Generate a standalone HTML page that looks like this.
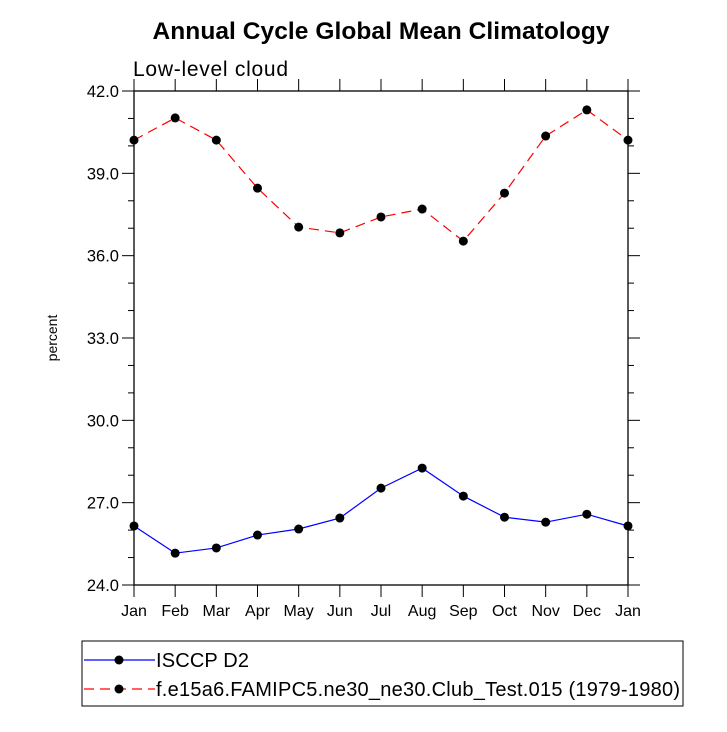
<!DOCTYPE html>
<html><head><meta charset="utf-8"><style>
body{margin:0;background:#fff}
svg text{font-family:"Liberation Sans",Helvetica,Arial,sans-serif;fill:#000}
</style></head><body>
<svg id="c" width="727" height="727" viewBox="0 0 727 727">
<text x="381" y="39" font-size="24.5" font-weight="bold" text-anchor="middle" textLength="457">Annual Cycle Global Mean Climatology</text>
<text x="133" y="76" font-size="21" textLength="155">Low-level cloud</text>
<text transform="translate(57,338) rotate(-90)" font-size="14" text-anchor="middle">percent</text>
<g id="axes"></g><g id="series"></g>
<g>
<rect x="82" y="641" width="601" height="65" fill="none" stroke="#000" stroke-width="1"/>
<g>
<line x1="84" y1="660" x2="155" y2="660" stroke="#00f" stroke-width="1.2"/>
<circle cx="119" cy="660" r="4.5" fill="#000"/>
<text x="156" y="667" font-size="20" textLength="93">ISCCP D2</text></g>
<g>
<line x1="84" y1="689" x2="155" y2="689" stroke="#f00" stroke-width="1.2" stroke-dasharray="10,6"/>
<circle cx="119" cy="689" r="4.5" fill="#000"/>
<text x="156" y="696" font-size="20" textLength="524">f.e15a6.FAMIPC5.ne30_ne30.Club_Test.015 (1979-1980)</text></g>
</g>
</svg>
<script>
const months=["Jan","Feb","Mar","Apr","May","Jun","Jul","Aug","Sep","Oct","Nov","Dec","Jan"];
const isccp=[26.15,25.16,25.35,25.82,26.04,26.44,27.53,28.26,27.24,26.47,26.29,26.58,26.15];
const model=[40.21,41.02,40.21,38.46,37.04,36.83,37.41,37.70,36.53,38.28,40.36,41.31,40.21];
const yTicks=[24,27,30,33,36,39,42];
const L=134,R=628,T=91,B=585,ymin=24,ymax=42;
const xs=i=>L+(R-L)*i/(months.length-1);
const ys=v=>B-(v-ymin)/(ymax-ymin)*(B-T);
const NS="http://www.w3.org/2000/svg";
function mk(tag,at,parent){const e=document.createElementNS(NS,tag);for(const k in at)e.setAttribute(k,at[k]);parent.appendChild(e);return e;}
const ax=document.getElementById('axes'),sr=document.getElementById('series');
const frame=mk('rect',{x:L,y:T,width:R-L,height:B-T,fill:'none',stroke:'#000','stroke-width':1.3},ax);


months.forEach((m,i)=>{const x=xs(i);
mk('line',{x1:x,y1:B,x2:x,y2:B+12,stroke:'#000'},ax);
mk('line',{x1:x,y1:T,x2:x,y2:T-12,stroke:'#000'},ax);
const t=mk('text',{x:x,y:B+31,'font-size':16,'text-anchor':'middle'},ax);t.textContent=m;

});
for(let v=ymin;v<=ymax;v++){const y=ys(v),maj=yTicks.includes(v);const len=maj?12:6;
mk('line',{x1:L,y1:y,x2:L-len,y2:y,stroke:'#000'},ax);
mk('line',{x1:R,y1:y,x2:R+len,y2:y,stroke:'#000'},ax);}
yTicks.forEach(v=>{const t=mk('text',{x:L-15,y:ys(v)+6,'font-size':16.5,'text-anchor':'end'},ax);t.textContent=v.toFixed(1);

});
function series(data,color,dash,name){
const p=mk('polyline',{points:data.map((v,i)=>xs(i)+','+ys(v)).join(' '),fill:'none',stroke:color,'stroke-width':1.2},sr);
if(dash)p.setAttribute('stroke-dasharray',dash);


data.forEach((v,i)=>{const c=mk('circle',{cx:xs(i),cy:ys(v),r:4.5,fill:'#000'},sr);

});}
series(isccp,'#00f',null,'isccp');
series(model,'#f00','10,6','model');
</script>
</body></html>
